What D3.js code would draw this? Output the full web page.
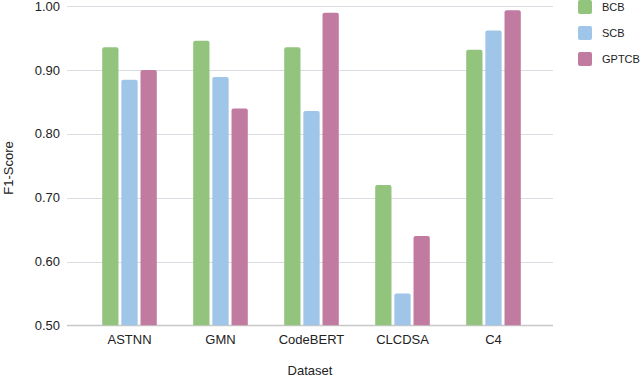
<!DOCTYPE html>
<html lang="en">
<head>
  <meta charset="UTF-8">
  <title>F1-Score by Dataset</title>
  <style>
    body, html { margin: 0; padding: 0; background: #fff; }
    svg { display: block; font-family: "Liberation Sans", Arial, sans-serif; }
  </style>
</head>
<body>
  <svg id="svg" width="640" height="379"></svg>
  <script src="https://d3js.org/d3.v7.min.js"></script>
  <script>
    const datasets = ['ASTNN', 'GMN', 'CodeBERT', 'CLCDSA', 'C4']
    const series = ['BCB', 'SCB', 'GPTCB']
    const bcb = [0.936, 0.946, 0.936, 0.72, 0.932]
    const scb = [0.885, 0.889, 0.836, 0.55, 0.962]
    const gptcb = [0.90, 0.840, 0.99, 0.64, 0.994]
    const yTicks = [0.5, 0.6, 0.7, 0.8, 0.9, 1.0]
    const colors = ['#93c47d', '#9fc5e8', '#c27ba0']

    const values = [bcb, scb, gptcb]
    const rows = datasets.map((d, i) => ({ name: d, vals: series.map((s, j) => ({ key: s, v: values[j][i], c: colors[j] })) }))

    const svg = d3.select('#svg')

    const yScale = d3.scaleLinear()
      .domain([0.5, 1.0])
      .range([325.3, 6.3])

    const xScale = d3.scaleBand()
      .domain(datasets)
      .range([84, 539])
      .paddingInner(0.4)
      .paddingOuter(0.2)

    const inner = d3.scaleBand()
      .domain(series)
      .range([0, xScale.bandwidth()])
      .paddingInner(0.15)

    // gridlines
    svg.append('g')
      .selectAll('line')
      .data(yTicks)
      .enter()
      .append('line')
      .attr('x1', 67)
      .attr('x2', 553)
      .attr('y1', d => Math.round(yScale(d)) + 0.5)
      .attr('y2', d => Math.round(yScale(d)) + 0.5)
      .attr('stroke', d => d === 0.5 ? '#c8c8c8' : '#d9dce0')
      .attr('stroke-width', d => d === 0.5 ? 1.5 : 1)

    // y tick labels
    svg.append('g')
      .selectAll('text')
      .data(yTicks)
      .enter()
      .append('text')
      .attr('x', 60)
      .attr('y', d => yScale(d))
      .attr('dy', '0.35em')
      .attr('text-anchor', 'end')
      .style('font-size', '13px')
      .style('fill', '#222')
      .text(d => d.toFixed(2))

    // bars, top corners rounded
    const r = 2
    const barPath = (x, y, w, h) =>
      `M${x},${y + h}V${y + r}Q${x},${y} ${x + r},${y}H${x + w - r}Q${x + w},${y} ${x + w},${y + r}V${y + h}Z`

    const groups = svg.append('g')
      .selectAll('g')
      .data(rows)
      .enter()
      .append('g')
      .attr('transform', d => `translate(${xScale(d.name)},0)`)

    groups.selectAll('path')
      .data(d => d.vals)
      .enter()
      .append('path')
      .attr('d', d => barPath(inner(d.key), yScale(d.v), inner.bandwidth(), yScale(0.5) - yScale(d.v)))
      .attr('fill', d => d.c)

    // x labels
    svg.append('g')
      .selectAll('text')
      .data(datasets)
      .enter()
      .append('text')
      .attr('x', d => xScale(d) + xScale.bandwidth() / 2)
      .attr('y', 344)
      .attr('text-anchor', 'middle')
      .style('font-size', '13px')
      .style('fill', '#222')
      .text(d => d)

    // axis titles
    svg.append('text')
      .attr('x', 310)
      .attr('y', 375)
      .attr('text-anchor', 'middle')
      .style('font-size', '13px')
      .style('fill', '#222')
      .text('Dataset')

    svg.append('text')
      .attr('transform', 'translate(13,168) rotate(-90)')
      .attr('text-anchor', 'middle')
      .style('font-size', '13px')
      .style('fill', '#222')
      .text('F1-Score')

    // legend
    const legend = svg.append('g')
      .selectAll('g')
      .data(series)
      .enter()
      .append('g')
      .attr('transform', (d, i) => `translate(578,${i * 26})`)

    legend.append('rect')
      .attr('width', 14)
      .attr('height', 14)
      .attr('rx', 2)
      .attr('fill', (d, i) => colors[i])

    legend.append('text')
      .attr('x', 24)
      .attr('y', 7)
      .attr('dy', '0.35em')
      .style('font-size', '11px')
      .style('fill', '#222')
      .text(d => d)
  </script>
</body>
</html>
